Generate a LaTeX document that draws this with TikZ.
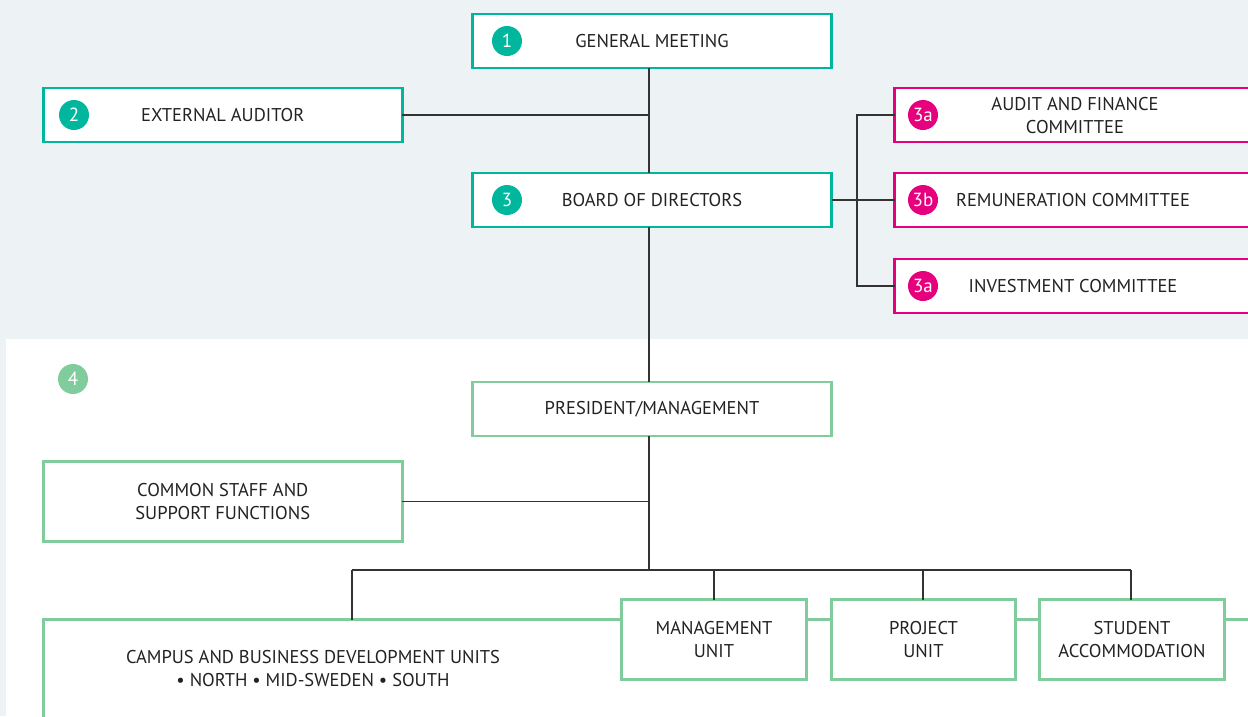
\documentclass[tikz,border=0pt]{standalone}
\usepackage{fontspec}
\setmainfont{PT Sans}
\definecolor{bgc}{HTML}{EDF2F5}
\definecolor{tealc}{HTML}{00B79D}
\definecolor{pinkc}{HTML}{E6007E}
\definecolor{grnc}{HTML}{80CC9C}
\definecolor{lnc}{HTML}{333333}
\definecolor{txtc}{HTML}{222222}
\begin{document}
\begin{tikzpicture}[x=1pt,y=-1pt,
  font=\fontsize{18.5}{23}\selectfont,
  box/.style={draw, line width=2.6pt, fill=white, outer sep=0pt, inner sep=0pt, text=txtc, align=center},
  tbox/.style={box, draw=tealc, minimum width=359pt, minimum height=54pt},
  pbox/.style={box, draw=pinkc, minimum width=370pt, minimum height=54pt, anchor=west},
  gbox/.style={box, draw=grnc},
  num/.style={circle, fill=#1, text=white, minimum size=30pt, inner sep=0pt, font=\fontsize{19}{19}\selectfont},
  conn/.style={draw=lnc, line width=1.8pt}]
\clip (0,0) rectangle (1248,716);
\fill[bgc] (0,0) rectangle (1248,339);
\fill[bgc] (0,339) rectangle (6,716);
\coordinate (sp) at (649,0);
\coordinate (cj) at (857,200);
\coordinate (bus) at (649,570);
\coordinate (busL) at (352,570);
\coordinate (busR) at (1131,570);
% top section
\node[tbox] (gm) at (652,41) {GENERAL MEETING};
\node[num=tealc] (n1) at (507,41) {1};
\node[tbox] (aud) at (222.75,115) {EXTERNAL AUDITOR};
\node[num=tealc] (n2) at (74,115) {2};
\node[tbox] (board) at (652,200) {BOARD OF DIRECTORS};
\node[num=tealc] (n3) at (507,200) {3};
\node[pbox] (af) at (894.5,115) {};
\node (aftxt) at (1075,115.5) [align=center, text=txtc] {AUDIT AND FINANCE\\COMMITTEE};
\node[num=pinkc] (n3a) at (923,115) {3a};
\node[pbox] (rem) at (894.5,200) {};
\node (remtxt) at (1073,200.5) [text=txtc] {REMUNERATION COMMITTEE};
\node[num=pinkc] (n3b) at (923,200) {3b};
\node[pbox] (inv) at (894.5,286) {};
\node (invtxt) at (1073,286.5) [text=txtc] {INVESTMENT COMMITTEE};
\node[num=pinkc] (n3c) at (923,286) {3a};
% bottom section
\node[num=grnc] (n4) at (73,379) {4};
\node[gbox, minimum width=359pt, minimum height=54pt] (pres) at (652,409) {PRESIDENT/MANAGEMENT};
\node[gbox, minimum width=359pt, minimum height=80pt] (common) at (222.75,501.5) {COMMON STAFF AND\\SUPPORT FUNCTIONS};
\node[gbox, minimum width=1230pt, minimum height=150pt, anchor=north west] (campus) at (43.5,619.5) {};
\node[text=txtc, align=center] (campustxt) at (313,669) {CAMPUS AND BUSINESS DEVELOPMENT UNITS\\\textbullet{} NORTH \textbullet{} MID-SWEDEN \textbullet{} SOUTH};
\node[gbox, minimum width=185pt, minimum height=80pt] (mgmt) at (714,639.5) {MANAGEMENT\\UNIT};
\node[gbox, minimum width=184pt, minimum height=80pt] (proj) at (923.5,639.5) {PROJECT\\UNIT};
\node[gbox, minimum width=185pt, minimum height=80pt] (stud) at (1132,639.5) {STUDENT\\ACCOMMODATION};
% connectors
\draw[conn] (gm.south -| sp) -- (board.north -| sp);
\draw[conn] (aud.east) -- (aud.east -| sp);
\draw[conn] (board.south -| sp) -- (pres.north -| sp);
\draw[conn] (board.east) -- (rem.west);
\draw[conn] (af.west) -| (cj) |- (inv.west);
\draw[conn] (pres.south -| sp) -- (bus);
\draw[conn] (common.east) -- (common.east -| sp);
\draw[conn] (busL) -- (busR);
\draw[conn] (busL) -- (campus.north -| busL);
\draw[conn] (mgmt.north) -- (mgmt.north |- bus);
\draw[conn] (proj.north -| 923,0) -- (bus -| 923,0);
\draw[conn] (stud.north -| busR) -- (busR);
\end{tikzpicture}
\end{document}
